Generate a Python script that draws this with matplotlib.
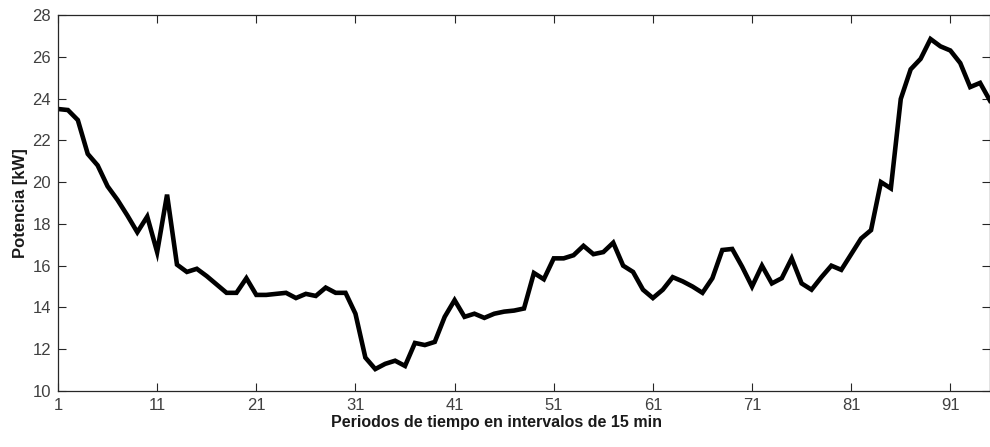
import numpy as np
import matplotlib
matplotlib.use("Agg")
import matplotlib.pyplot as plt

plt.rcParams['font.family'] = ['Liberation Sans', 'DejaVu Sans']

# periodos de 15 min (1..95 visibles)
periodos = list(range(1, 96))
potencia = [
    23.5, 23.45, 22.97, 21.35, 20.8, 19.8, 19.15, 18.4, 17.6, 18.35,
    16.65, 19.4, 16.05, 15.7, 15.85, 15.5, 15.1, 14.7, 14.7, 15.4,
    14.6, 14.6, 14.65, 14.7, 14.45, 14.65, 14.55, 14.95, 14.7, 14.7,
    13.7, 11.6, 11.05, 11.3, 11.45, 11.2, 12.3, 12.2, 12.35, 13.55,
    14.35, 13.55, 13.7, 13.5, 13.7, 13.8, 13.85, 13.95, 15.65, 15.35,
    16.35, 16.35, 16.5, 16.95, 16.55, 16.65, 17.1, 16.0, 15.7, 14.85,
    14.45, 14.85, 15.45, 15.25, 15.0, 14.7, 15.4, 16.75, 16.8, 15.95,
    15.0, 16.0, 15.15, 15.4, 16.35, 15.15, 14.85, 15.45, 16.0, 15.8,
    16.55, 17.3, 17.7, 20.0, 19.7, 23.98, 25.4, 25.9, 26.85, 26.5,
    26.3, 25.7, 24.55, 24.75, 23.9,
]
xticks = list(range(1, 92, 10))
yticks = list(range(10, 29, 2))

fig = plt.figure(figsize=(9.9, 4.47), dpi=100)
ax = fig.add_axes([58 / 990, 1 - 391 / 447, 1 - 58 / 990, (391 - 15) / 447])

ax.plot(periodos, potencia, color='black', lw=3.3, solid_joinstyle='miter')

ax.set_xlim(1, 95)
ax.set_ylim(10, 28)
ax.set_xticks(xticks)
ax.set_yticks(yticks)
ax.tick_params(direction='in', length=6, width=0.8, colors='#262626',
               labelcolor='#404040', labelsize=12, top=True, right=True,
               pad=5)
for s in ax.spines.values():
    s.set_color('#262626')
    s.set_linewidth(0.9)

ax.set_xlabel('Periodos de tiempo en intervalos de 15 min', fontsize=11.5,
              fontweight='bold', color='#1a1a1a', labelpad=2)
ax.xaxis.set_label_coords(0.471, -0.065)
ax.xaxis.label.set_va('top')
ax.set_ylabel('Potencia [kW]', fontsize=12, fontweight='bold',
              color='#1a1a1a', labelpad=3)

fig.savefig('out.png', dpi=100)
